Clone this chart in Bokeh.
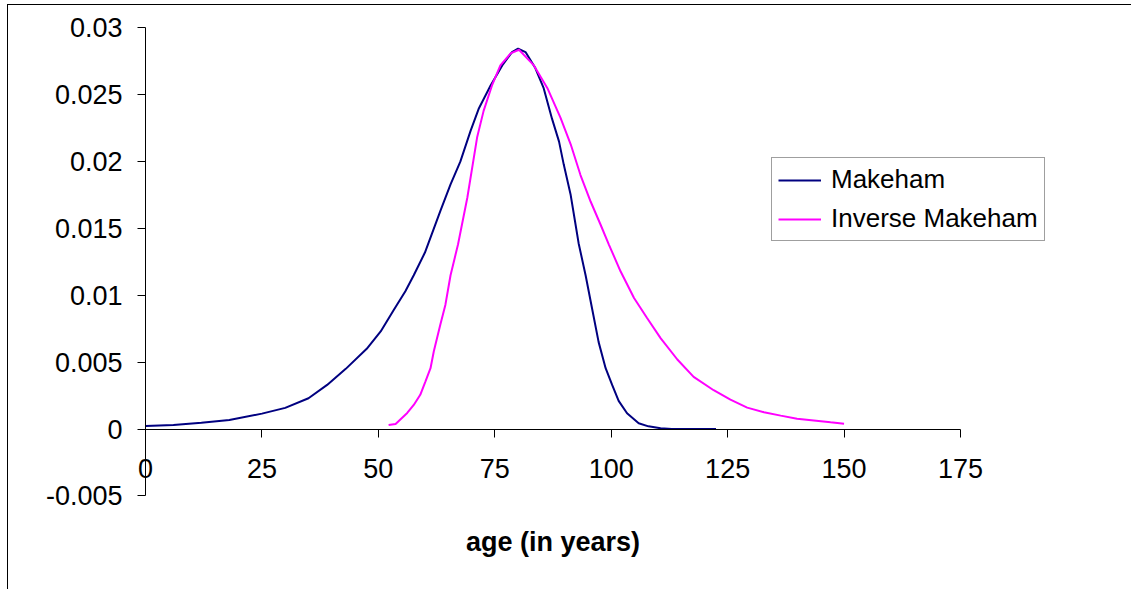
from bokeh.plotting import figure
from bokeh.models import Range1d, FixedTicker, NumeralTickFormatter, Label, Legend, LegendItem
from bokeh.embed import file_html
from bokeh.resources import INLINE

# ---- data ----
makeham_age = [0, 6, 12, 18, 25, 30, 35, 39, 43, 47.5, 50.5, 53.3, 55.8, 57.6, 60, 63.3, 65.5,
               67.6, 69.8, 71.6, 74.1, 76.6, 78.7, 80, 81.6, 83.7, 85.5, 87.3, 88.8, 89.8, 91.3,
               92.2, 93, 94.5, 95.9, 97.3, 98.8, 100.2, 101.6, 103.4, 105.9, 108, 110.6, 113, 122.5]
makeham_val = [0.00022, 0.00030, 0.00046, 0.00068, 0.00115, 0.00158, 0.0023, 0.0033, 0.0045,
               0.0060, 0.0073, 0.0089, 0.0103, 0.0115, 0.0132, 0.0163, 0.0183, 0.0200, 0.0223,
               0.0240, 0.0257, 0.0272, 0.0282, 0.02845, 0.0282, 0.0270, 0.0255, 0.0232, 0.0215,
               0.0198, 0.0175, 0.0156, 0.0139, 0.0115, 0.0090, 0.0065, 0.00455, 0.0033, 0.0021,
               0.00118, 0.00043, 0.0002, 0.00006, 0.0, 0.0]

inverse_age = [52.2, 53.7, 56.2, 57.6, 59, 60.1, 61.2, 61.9, 63.3, 64.4, 65.5, 66.4, 67.1, 69.1,
               71.2, 72.6, 74.4, 76.2, 78.4, 80.2, 83.4, 86.3, 89.1, 91.3, 93.4, 95.6, 97.7, 99.5,
               102, 104.9, 107.7, 110.6, 114.2, 117.7, 122, 125.6, 129.2, 132.8, 136.4, 139.9,
               143.5, 147.1, 150]
inverse_val = [0.0003, 0.00038, 0.0012, 0.0018, 0.00256, 0.00355, 0.00455, 0.0058, 0.0078,
               0.0093, 0.0115, 0.0128, 0.0138, 0.0173, 0.0218, 0.0238, 0.0257, 0.0272, 0.0281,
               0.02837, 0.0272, 0.0255, 0.0233, 0.0213, 0.0190, 0.0170, 0.0153, 0.0138, 0.0118,
               0.0098, 0.0083, 0.0068, 0.0052, 0.0039, 0.0029, 0.0022, 0.0016, 0.00126, 0.0010,
               0.00076, 0.00064, 0.0005, 0.0004]

x_ticks = [0, 25, 50, 75, 100, 125, 150, 175]
y_ticks = [-0.005, 0, 0.005, 0.01, 0.015, 0.02, 0.025, 0.03]
series_names = ["Makeham", "Inverse Makeham"]
x_title = "age (in years)"

FONT = "Liberation Sans"
W, H = 1124, 585

p = figure(width=W, height=H, output_backend="svg", toolbar_location=None,
           x_range=Range1d(-29.42, -29.42 + W / 4.657),
           y_range=Range1d(0.031683 - H / 13367.0, 0.031683),
           min_border_left=0, min_border_top=0, min_border_right=0, min_border_bottom=0)
p.styles = {"margin-left": "7px", "margin-top": "4px",
            "border-left": "1px solid black", "border-top": "1px solid black"}
p.outline_line_color = None
p.xgrid.visible = False
p.ygrid.visible = False
p.background_fill_color = "white"
p.border_fill_color = "white"

# x axis crossing at y = 0
xa = p.xaxis[0]
xa.fixed_location = 0
xa.bounds = (0, 175)
xa.ticker = FixedTicker(ticks=x_ticks)
xa.minor_tick_line_color = None
xa.major_tick_in = 0
xa.major_tick_out = 8
xa.major_label_standoff = 22
xa.major_label_text_font = FONT
xa.major_label_text_font_size = "27px"
xa.major_label_text_color = "black"
xa.axis_line_color = "black"
xa.major_tick_line_color = "black"

# y axis crossing at x = 0
ya = p.yaxis[0]
ya.fixed_location = 0
ya.bounds = (-0.005, 0.03)
ya.ticker = FixedTicker(ticks=y_ticks)
ya.formatter = NumeralTickFormatter(format="0.[000]")
ya.minor_tick_line_color = None
ya.major_tick_in = 0
ya.major_tick_out = 8
ya.major_label_standoff = 15
ya.major_label_text_font = FONT
ya.major_label_text_font_size = "27px"
ya.major_label_text_color = "black"
ya.axis_line_color = "black"
ya.major_tick_line_color = "black"

r1 = p.line(makeham_age, makeham_val, line_color="#000080", line_width=2)
r2 = p.line(inverse_age, inverse_val, line_color="#FF00FF", line_width=2)

legend = Legend(items=[LegendItem(label=series_names[0], renderers=[r1]),
                       LegendItem(label=series_names[1], renderers=[r2])],
                location=(763, 349), padding=6, spacing=8, margin=0,
                glyph_width=43, glyph_height=20, label_standoff=10, label_height=29,
                label_text_font=FONT, label_text_font_size="26px", label_text_color="black",
                border_line_color="#404040", border_line_width=1,
                background_fill_color="white", background_fill_alpha=1.0)
p.add_layout(legend, "center")

p.add_layout(Label(x=87.5, y=-0.00849, text=x_title, text_align="center", text_baseline="middle",
                   text_font=FONT, text_font_size="27px", text_font_style="bold",
                   text_color="black"))

open("out.html", "w").write(file_html(p, INLINE))
